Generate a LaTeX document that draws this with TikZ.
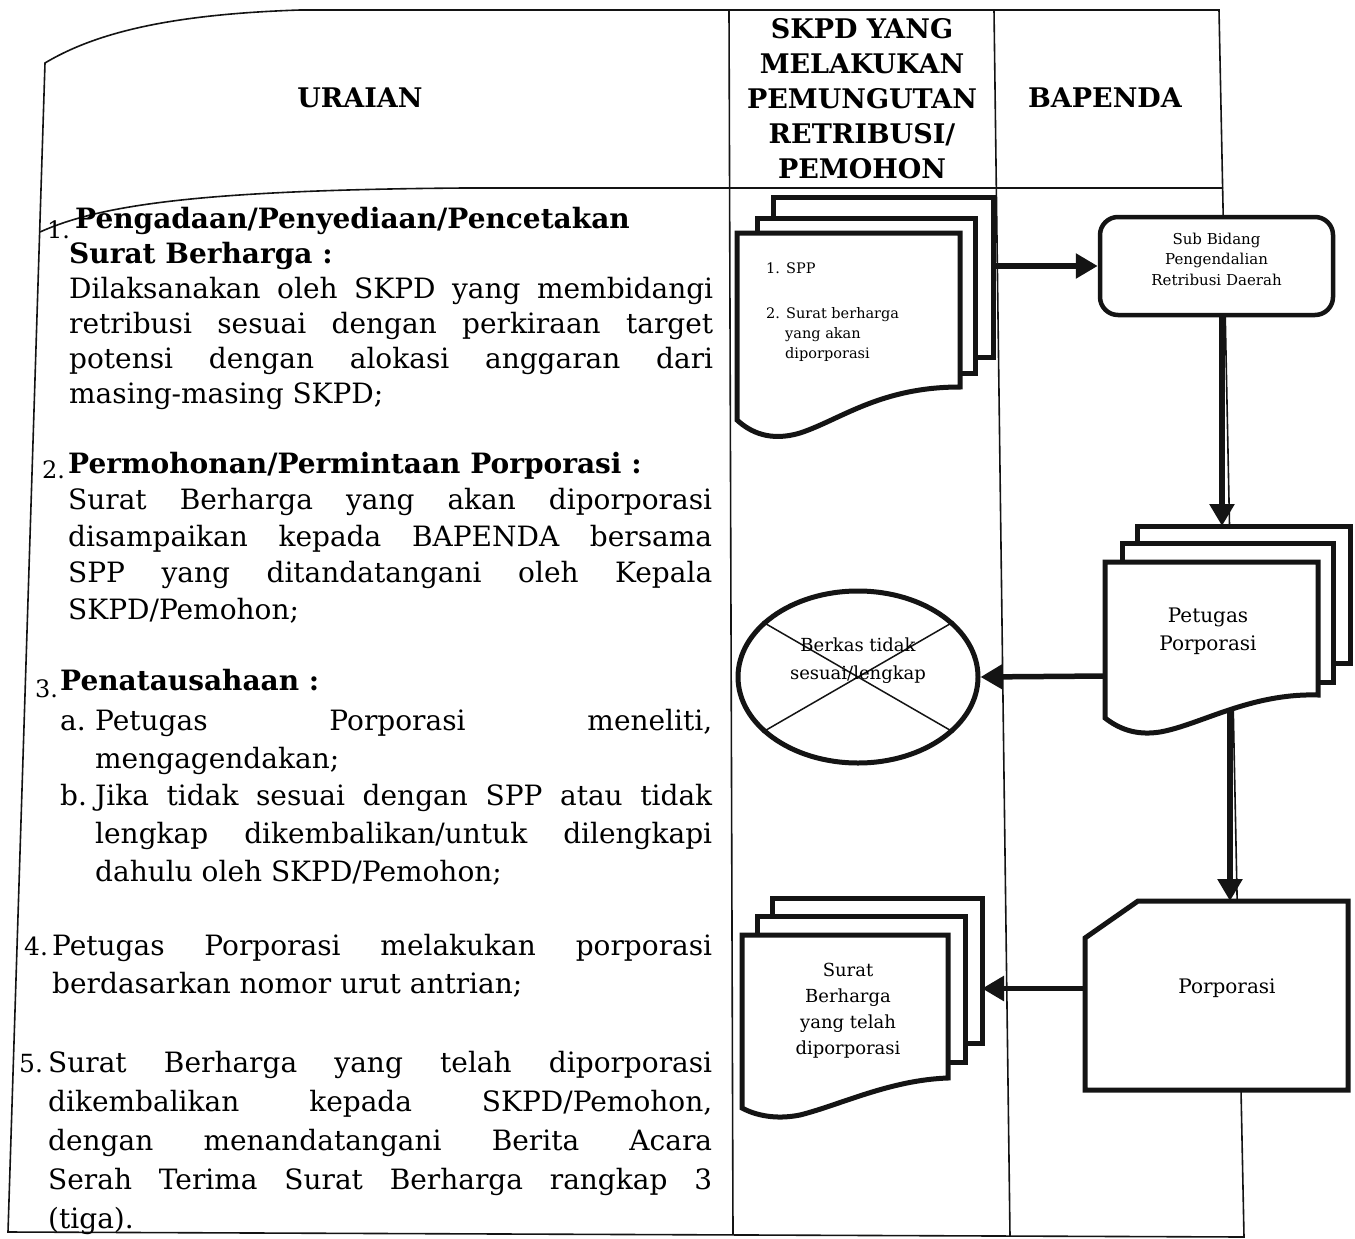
\documentclass[tikz,border=0pt]{standalone}
\usepackage{fontspec}
\setmainfont{DejaVu Serif}
\usetikzlibrary{arrows.meta,shapes.geometric}
\definecolor{inkblack}{HTML}{141414}
\newcommand{\bodyfont}[1]{\fontsize{28}{#1}\selectfont\tolerance=10000\hbadness=10000\hyphenpenalty=10000}

\begin{document}
\begin{tikzpicture}[x=1pt,y=-1pt,
  rule/.style={line width=1.6pt,draw=inkblack},
  page/.style={rectangle,draw=inkblack,fill=white,line width=5pt,outer sep=0pt,inner sep=0pt},
  pageline/.style={draw=inkblack,fill=white,line width=5pt,line join=miter},
  flow/.style={draw=inkblack,line width=5.5pt,-{Triangle[length=22pt,width=24pt]}},
  head/.style={inner sep=0pt,align=center,font=\fontsize{27}{35}\selectfont\bfseries},
  para/.style={anchor=base west,inner sep=0pt,align=justify},
  num/.style={anchor=base west,inner sep=0pt},
  boxtext/.style={inner sep=0pt,align=center}]
  \useasboundingbox (0,0) rectangle (1355,1239);
  \fill[white] (0,0) rectangle (1355,1239);

  % table
  \draw[rule] (45,63) .. controls (100,30) and (180,14) .. (300,10) -- (1219,10)
    -- (1244,1237) -- (8,1232) -- cycle;
  \draw[rule] (40,232) .. controls (100,205) and (200,190) .. (465,188) -- (1223,188);
  \draw[rule] (729,10) -- (733,1234);
  \draw[rule] (994,10) -- (1010,1236);

  \node[head] (uraian) at (360,98) {URAIAN};
  \node[head] (skpdhead) at (862,99) {SKPD YANG\\MELAKUKAN\\PEMUNGUTAN\\RETRIBUSI/\\PEMOHON};
  \node[head] (bapenda) at (1105,98) {BAPENDA};

  % uraian
  \node[num,font=\fontsize{24}{30}\selectfont] (no1) at (47,238) {1.};
  \node[para,text width=644pt,font=\bodyfont{35}] (item1) at (69,228)
    {{\bfseries \hspace*{6pt}Pengadaan/Penyediaan/Pencetakan\\Surat Berharga :}\\
     Dilaksanakan oleh SKPD yang membidangi\linebreak
     retribusi sesuai dengan perkiraan target\linebreak
     potensi dengan alokasi anggaran dari\linebreak
     masing-masing SKPD;};
  \node[num,font=\fontsize{24}{30}\selectfont] (no2) at (42,478) {2.};
  \node[para,text width=644pt,font=\bodyfont{36.5}] (item2) at (68,473)
    {{\bfseries Permohonan/Permintaan Porporasi :}\\
     Surat Berharga yang akan diporporasi\linebreak
     disampaikan kepada BAPENDA bersama\linebreak
     SPP yang ditandatangani oleh Kepala\linebreak
     SKPD/Pemohon;};
  \node[num,font=\fontsize{24}{30}\selectfont] (no3) at (35,697) {3.};
  \node[num,font=\bodyfont{38}\bfseries] (item3) at (60,690) {Penatausahaan :};
  \node[num,font=\bodyfont{38}] (suba) at (60,730) {a.};
  \node[para,text width=617pt,font=\bodyfont{38}] (item3a) at (95,730)
    {Petugas Porporasi meneliti,\linebreak mengagendakan;};
  \node[num,font=\bodyfont{38}] (subb) at (60,805) {b.};
  \node[para,text width=617pt,font=\bodyfont{38}] (item3b) at (95,805)
    {Jika tidak sesuai dengan SPP atau tidak\linebreak
     lengkap dikembalikan/untuk dilengkapi\linebreak
     dahulu oleh SKPD/Pemohon;};
  \node[num,font=\fontsize{25}{30}\selectfont] (no4) at (24,955) {4.};
  \node[para,text width=660pt,font=\bodyfont{38}] (item4) at (52,955)
    {Petugas Porporasi melakukan porporasi\linebreak
     berdasarkan nomor urut antrian;};
  \node[num,font=\fontsize{25}{30}\selectfont] (no5) at (19,1072) {5.};
  \node[para,text width=664pt,font=\bodyfont{39}] (item5) at (48,1072)
    {Surat Berharga yang telah diporporasi\linebreak
     dikembalikan kepada SKPD/Pemohon,\linebreak
     dengan menandatangani Berita Acara\linebreak
     Serah Terima Surat Berharga rangkap 3\linebreak
     (tiga).};

  % SPP
  \node[page,minimum width=220pt,minimum height=160pt,anchor=north west] (sppback) at (773,197) {};
  \node[page,minimum width=218pt,minimum height=155pt,anchor=north west] (sppmid) at (757,218) {};
  \draw[pageline] (737,233) -- (960,233) -- (960,387)
    .. controls (880,387) and (840,420) .. (800,433)
    .. controls (770,442) and (750,432) .. (737,420) -- cycle;
  \node[num,font=\fontsize{14.5}{20}\selectfont] (spp1) at (766,273) {1. SPP};
  \node[num,align=left,font=\fontsize{14.5}{20}\selectfont] (spp2) at (766,358)
    {2. Surat berharga\\\hspace*{19pt}yang akan\\\hspace*{19pt}diporporasi};

  % Sub Bidang
  \node[draw=inkblack,fill=white,line width=4.5pt,rounded corners=18pt,minimum width=233pt,
    minimum height=98pt] (subbid) at (1216.5,266) {};
  \node[boxtext,font=\fontsize{15}{20.5}\selectfont] (subtext) at (1216.5,259)
    {Sub Bidang\\Pengendalian\\Retribusi Daerah};

  % Petugas
  \node[page,minimum width=213pt,minimum height=137pt,anchor=north west] (petback) at (1137,526) {};
  \node[page,minimum width=211pt,minimum height=139pt,anchor=north west] (petmid) at (1122,543) {};
  \draw[pageline] (1105,562) -- (1318,562) -- (1318,695)
    .. controls (1250,693) and (1200,725) .. (1160,732)
    .. controls (1135,736) and (1118,728) .. (1105,718) -- cycle;
  \node[boxtext,font=\fontsize{20}{28}\selectfont] (pettext) at (1208,631) {Petugas\\Porporasi};
  \coordinate (petleft) at (1105,676);
  \coordinate (petfoot) at (1230,710);

  % Berkas
  \node[ellipse,draw=inkblack,line width=5pt,minimum width=240pt,minimum height=172pt,
    inner sep=0pt] (berkas) at (858,677) {};
  \draw[line width=1.5pt,inkblack] (berkas.150) -- (berkas.-30);
  \draw[line width=1.5pt,inkblack] (berkas.210) -- (berkas.30);
  \node[boxtext,font=\fontsize{18}{28}\selectfont] (berkastext) at (858,661) {Berkas tidak\\sesuai/lengkap};

  % Porporasi
  \node[minimum width=263pt,minimum height=189pt,inner sep=0pt,outer sep=0pt] (porp) at (1216.5,995.5) {};
  \draw[pageline] ([yshift=-37pt]porp.north west) -- ([xshift=53pt]porp.north west)
    -- (porp.north east) -- (porp.south east) -- (porp.south west) -- cycle;
  \node[boxtext,anchor=base,font=\fontsize{20}{24}\selectfont] (porptext) at (1227,993) {Porporasi};
  \coordinate (porpout) at ([yshift=7pt]porp.west);

  % Surat Berharga
  \node[page,minimum width=210pt,minimum height=145pt,anchor=north west] (sbback) at (772,898) {};
  \node[page,minimum width=208pt,minimum height=146pt,anchor=north west] (sbmid) at (757,916) {};
  \draw[pageline] (742,935) -- (948,935) -- (948,1078)
    .. controls (890,1080) and (840,1105) .. (800,1115)
    .. controls (775,1120) and (755,1115) .. (742,1108) -- cycle;
  \node[boxtext,font=\fontsize{18}{26}\selectfont] (sbtext) at (848,1011)
    {Surat\\Berharga\\yang telah\\diporporasi};

  % arrows
  \draw[flow] (sppback.east |- subbid.west) -- (subbid.west);
  \draw[flow] ([xshift=5.5pt]subbid.south) -- ([xshift=5.5pt]subbid.south |- petback.north);
  \draw[flow] (petleft) -- (berkas.east);
  \draw[flow] (petfoot) -- (petfoot |- porp.north);
  \draw[flow] (porpout) -- (porpout -| sbback.east);
\end{tikzpicture}
\end{document}
